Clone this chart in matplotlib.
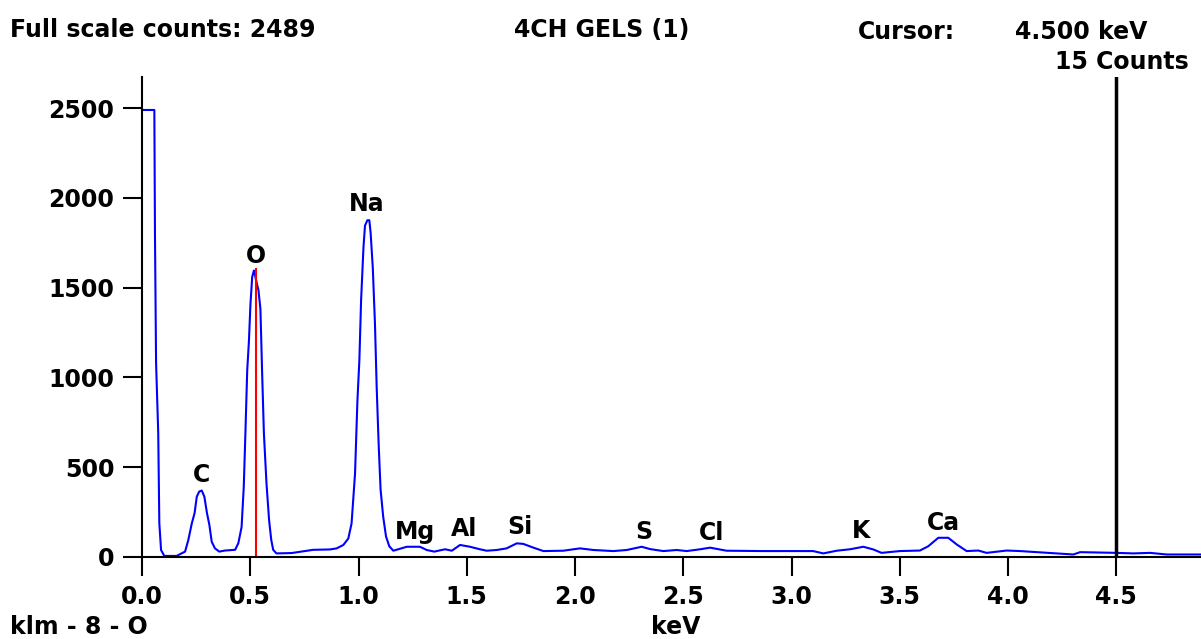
import numpy as np
import matplotlib.pyplot as plt

# spectrum (keV, counts)
energy = [0.0, 0.057, 0.06, 0.065, 0.075, 0.08, 0.088, 0.103, 0.16, 0.199, 0.214, 0.23, 0.243, 0.253,
          0.264, 0.276, 0.288, 0.30, 0.311, 0.322, 0.337, 0.357, 0.383, 0.43, 0.445, 0.46, 0.47, 0.478,
          0.486, 0.494, 0.501, 0.509, 0.517, 0.521, 0.529, 0.538, 0.547, 0.555, 0.563, 0.575, 0.587,
          0.597, 0.606, 0.621, 0.691, 0.791, 0.868, 0.899, 0.93, 0.953, 0.968, 0.984, 0.995, 1.004,
          1.012, 1.023, 1.030, 1.041, 1.050, 1.056, 1.066, 1.076, 1.084, 1.093, 1.102, 1.114, 1.127,
          1.142, 1.161, 1.223, 1.284, 1.315, 1.35, 1.40, 1.431, 1.469, 1.515, 1.561, 1.592, 1.638,
          1.684, 1.731, 1.761, 1.808, 1.854, 1.946, 2.023, 2.085, 2.177, 2.239, 2.308, 2.347, 2.408,
          2.47, 2.516, 2.578, 2.624, 2.70, 2.87, 3.10, 3.147, 3.209, 3.27, 3.332, 3.378, 3.416, 3.50,
          3.593, 3.632, 3.678, 3.724, 3.763, 3.809, 3.863, 3.901, 3.994, 4.056, 4.302, 4.333, 4.502,
          4.579, 4.656, 4.733, 4.89]
counts = [2489, 2489, 1783, 1080, 690, 189, 39, 6, 6, 30, 95, 187, 245, 336,
          364, 370, 336, 245, 180, 85, 48, 30, 36, 40, 77, 167, 390, 705,
          1040, 1205, 1410, 1560, 1595, 1575, 1530, 1485, 1380, 1020, 690, 410, 205,
          95, 40, 20, 22, 40, 42, 48, 67, 103, 187, 465, 870, 1095,
          1430, 1725, 1845, 1875, 1875, 1805, 1610, 1300, 945, 630, 375, 225, 115,
          60, 35, 57, 57, 39, 30, 43, 35, 67, 57, 43, 35, 39,
          48, 76, 73, 52, 33, 35, 48, 39, 33, 39, 57, 44, 33,
          39, 33, 43, 52, 35, 33, 33, 20, 35, 43, 57, 42, 23, 33,
          36, 60, 107, 107, 70, 33, 36, 23, 36, 33, 14, 27, 23,
          20, 23, 14, 14]

elements = ["C", "O", "Na", "Mg", "Al", "Si", "S", "Cl", "K", "Ca"]
elem_kev = [0.277, 0.527, 1.039, 1.261, 1.487, 1.746, 2.319, 2.633, 3.321, 3.70]
elem_y = [457, 1676, 1965, 139, 156, 167, 139, 134, 145, 189]

marker_kev = 0.528   # red O line
marker_h = 1610
cursor_kev = 4.5

W, H = 1201, 639
fig = plt.figure(figsize=(W / 100, H / 100), dpi=100)
plt.rcParams['font.family'] = ['DejaVu Sans']
fs = 17

x0, y0, ytop = 142, 557, 77
ax = fig.add_axes([x0 / W, (H - y0) / H, (W - x0) / W, (y0 - ytop) / H])
kev_px = 216.5
ax.set_xlim(0, (W - x0) / kev_px)
ax.set_ylim(0, (y0 - ytop) / 0.1796)

ax.plot(energy, counts, color="#0000ff", lw=1.5)
ax.vlines(marker_kev, 0, marker_h, color="#ff0000", lw=1.5)
ax.axvline(cursor_kev, color="black", lw=2.5)

for el, xk, yc in zip(elements, elem_kev, elem_y):
    ax.text(xk, yc, el, ha="center", va="center", fontsize=fs, fontweight="bold")

for s in ["top", "right"]:
    ax.spines[s].set_visible(False)
for s in ["left", "bottom"]:
    ax.spines[s].set_linewidth(1.5)
ax.set_xticks(np.arange(0, 4.51, 0.5))
ax.set_xticklabels([f"{v:.1f}" for v in np.arange(0, 4.51, 0.5)])
ax.set_yticks([0, 500, 1000, 1500, 2000, 2500])
ax.tick_params(axis="both", direction="out", length=14, width=1.5, labelsize=fs, pad=6)
for lab in ax.get_xticklabels() + ax.get_yticklabels():
    lab.set_fontweight("bold")

def ftext(x, y, s, **kw):
    fig.text(x / W, 1 - y / H, s, fontsize=fs, fontweight="bold", va="center", **kw)

ftext(10, 30, "Full scale counts: 2489", ha="left")
ftext(602, 30, "4CH GELS (1)", ha="center")
ftext(858, 32, "Cursor:", ha="left")
ftext(1147, 32, "4.500 keV", ha="right")
ftext(1189, 62, "15 Counts", ha="right")
ftext(10, 627, "klm - 8 - O", ha="left")
ftext(676, 627, "keV", ha="center")

fig.savefig("out.png", dpi=100)
